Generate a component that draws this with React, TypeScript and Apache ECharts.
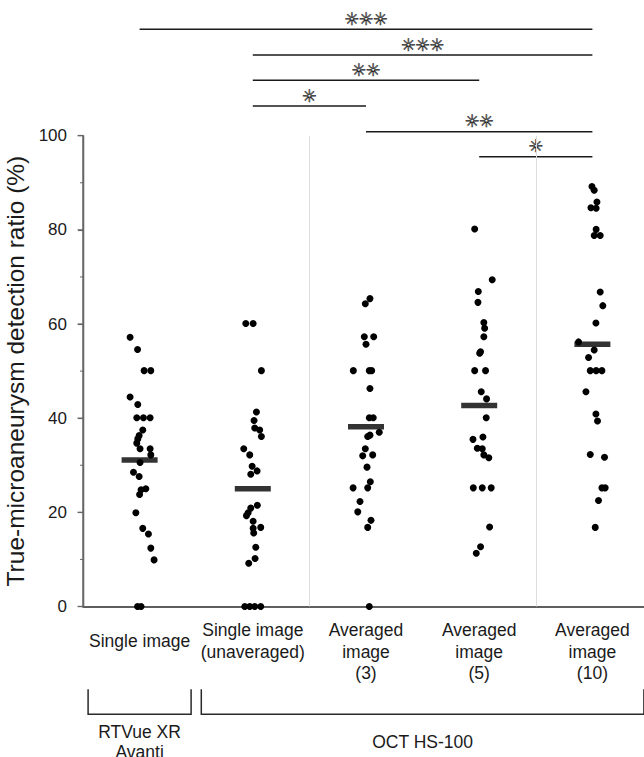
import React, { useEffect, useRef } from 'react';
import * as echarts from 'echarts';

// ---------- data ----------
const categories = [
  'Single image',
  'Single image\n(unaveraged)',
  'Averaged\nimage\n(3)',
  'Averaged\nimage\n(5)',
  'Averaged\nimage\n(10)',
];

const yMin = 0;
const yMax = 100;
const yInterval = 20;
const yMajorTicks = [0, 20, 40, 60, 80, 100];
const yMinorTicks = [10, 30, 50, 70, 90];

// values (%) and horizontal jitter (in category units)
const rtvueValues = [57.2, 54.6, 50.1, 50.1, 44.5, 42.9, 40.1, 40.1, 40.1, 37.5, 36.3, 35.6, 34.7, 33.5, 33.5, 32.2, 30.6, 28.5, 27.6, 25.0, 24.8, 23.8, 19.9, 16.6, 15.4, 12.4, 9.9, 0, 0];
const rtvueJitter = [-0.084, -0.018, 0.04, 0.099, -0.084, -0.016, -0.025, 0.034, 0.093, 0.028, -0.004, -0.016, -0.025, 0.004, 0.093, 0.099, 0.004, -0.054, -0.004, 0.055, 0.013, 0, -0.033, 0.028, 0.078, 0.099, 0.128, -0.018, 0.013];

const singleValues = [60.1, 60.1, 50.1, 41.3, 39.5, 37.9, 37.5, 36.1, 33.5, 32.2, 29.8, 28.8, 28.1, 21.5, 20.9, 19.9, 19.3, 18.1, 16.8, 16.6, 15.6, 12.6, 10.2, 9.2, 0, 0, 0, 0];
const singleJitter = [-0.062, 0.003, 0.076, 0.032, 0.011, 0.017, 0.061, 0.076, -0.08, -0.027, -0.006, 0.038, -0.018, 0.04, -0.018, -0.041, -0.056, 0.003, 0.07, 0.003, 0.008, 0.026, 0.02, -0.036, -0.071, -0.027, 0.017, 0.07];

const avg3Values = [65.4, 64.3, 57.3, 57.3, 55.7, 50.1, 50.1, 50.1, 46.3, 40.1, 40.1, 37.0, 36.4, 36.1, 33.5, 32.2, 32.0, 29.6, 26.5, 25.2, 25.2, 22.3, 20.1, 18.3, 16.8, 0];
const avg3Jitter = [0.035, -0.006, -0.015, 0.068, 0, -0.112, 0.029, 0.05, 0.035, 0.029, 0.064, 0.117, 0.035, 0.015, -0.006, 0.059, -0.029, 0.009, 0.038, 0.015, -0.114, -0.053, -0.073, 0.044, 0.015, 0.029];

const avg5Values = [80.2, 69.4, 66.9, 64.6, 60.3, 59.1, 57.3, 54.1, 53.8, 50.1, 50.1, 45.6, 44.1, 40.1, 36.0, 35.5, 33.6, 33.5, 32.2, 31.6, 25.2, 25.2, 25.2, 16.9, 12.7, 11.3];
const avg5Jitter = [-0.04, 0.115, -0.008, -0.011, 0.041, 0.048, 0.041, 0.012, 0.004, -0.04, 0.056, 0.018, 0.065, 0.062, 0.033, -0.055, -0.017, 0.027, 0.041, 0.085, -0.052, 0.027, 0.106, 0.092, 0.012, -0.026];

const avg10Values = [89.2, 88.4, 85.9, 84.7, 84.6, 80.1, 78.8, 78.8, 66.8, 63.9, 60.2, 56.2, 54.5, 52.9, 50.1, 50.1, 50.1, 45.6, 40.9, 39.4, 32.3, 31.7, 25.2, 25.2, 22.5, 16.8];
const avg10Jitter = [-0.004, 0.016, 0.04, -0.013, 0.033, 0.033, 0.016, 0.069, 0.069, 0.092, 0.031, -0.122, 0.016, -0.034, -0.019, 0.033, 0.084, -0.057, 0.031, 0.045, -0.019, 0.107, 0.084, 0.113, 0.054, 0.025];

const groupValues = [rtvueValues, singleValues, avg3Values, avg5Values, avg10Values];
const groupJitter = [rtvueJitter, singleJitter, avg3Jitter, avg5Jitter, avg10Jitter];

const means = [31.1, 25.0, 38.2, 42.7, 55.7];

// significance comparisons
const sigFrom = [0, 1, 1, 1, 2, 3];
const sigTo = [4, 4, 3, 2, 4, 4];
const sigStars = ['✳✳✳', '✳✳✳', '✳✳', '✳', '✳✳', '✳'];

// device groups under the axis
const deviceNames = ['RTVue XR\nAvanti', 'OCT HS-100'];
const deviceFrom = [0, 1];
const deviceTo = [0, 4];

// separators between panels (category index + 0.5 = boundary)
const separators = [1.5, 3.5];

// ---------- layout (pixels) ----------
const W = 644;
const H = 757;
const SIG_Y = [29.3, 55, 80.3, 106, 131.7, 156.7];
const FONT = "'Liberation Sans', Arial, Helvetica, sans-serif";
const AXIS_GRAY = '#666666';

// category index -> value-axis coordinate (band centres at 0.5, 1.5, ...)
const pos = (i: number) => i + 0.5;

export default function App() {
  const ref = useRef<HTMLDivElement>(null);

  useEffect(() => {
    if (!ref.current) return;
    const chart = echarts.init(ref.current, null, { renderer: 'svg' });

    const dotSeries = groupValues.map((vals, gi) => ({
      type: 'scatter',
      xAxisIndex: 1,
      yAxisIndex: 0,
      symbol: 'circle',
      symbolSize: 7,
      itemStyle: { color: '#000000', opacity: 1 },
      z: 3,
      silent: true,
      data: vals.map((v, i) => [pos(gi + groupJitter[gi][i]), v]),
    }));

    const option: any = {
      animation: false,
      textStyle: { fontFamily: FONT },
      grid: {
        left: 83,
        top: 135.7,
        width: 566,
        height: 470.8,
        outerBoundsMode: 'none',
      },
      xAxis: [
        {
          type: 'category',
          data: categories.map((c, i) =>
            i === 0 ? { value: c, textStyle: { lineHeight: 43.4 } } : c
          ),
          boundaryGap: true,
          axisLine: { show: true, lineStyle: { color: '#2a2a2a', width: 1.6 } },
          axisTick: { show: false },
          axisLabel: {
            interval: 0,
            margin: 12.5,
            fontSize: 17.5,
            lineHeight: 21.7,
            color: '#1a1a1a',
            fontFamily: FONT,
            verticalAlign: 'top',
          },
          splitLine: { show: false },
          splitArea: { show: false },
        },
        { type: 'value', min: 0, max: 5, show: false },
      ],
      yAxis: {
        type: 'value',
        z: 10,
        min: yMin,
        max: yMax,
        interval: yInterval,
        name: 'True-microaneurysm detection ratio (%)',
        nameLocation: 'middle',
        nameGap: 54,
        nameRotate: 90,
        nameTextStyle: { fontSize: 24.5, color: '#1a1a1a', fontFamily: FONT },
        axisLine: { show: true, lineStyle: { color: AXIS_GRAY, width: 1.3 } },
        axisTick: { show: true, length: 5, lineStyle: { color: AXIS_GRAY, width: 1.2 } },
        axisLabel: { fontSize: 17, color: '#1a1a1a', margin: 16, fontFamily: FONT },
        splitLine: { show: false },
        splitArea: { show: false },
      },
      series: [
        {
          type: 'scatter',
          xAxisIndex: 1,
          yAxisIndex: 0,
          data: [],
          z: 1,
          silent: true,
          markLine: {
            silent: true,
            symbol: ['none', 'none'],
            label: { show: false },
            lineStyle: { color: '#dcdcdc', width: 1, type: 'solid' },
            data: [
              ...separators.map((s) => ({ xAxis: pos(s) })),
              { xAxis: 0, lineStyle: { color: AXIS_GRAY, width: 1.3, type: 'solid' } },
            ],
          },
        },
        ...dotSeries,
        {
          type: 'scatter',
          xAxisIndex: 1,
          yAxisIndex: 0,
          symbol: 'rect',
          symbolSize: [36, 5.5],
          itemStyle: { color: '#000000' },
          z: 4,
          silent: true,
          data: means.map((m, i) => [pos(i), m]),
        },
      ],
    };

    chart.setOption(option);

    const px = (v: number) => chart.convertToPixel({ xAxisIndex: 1 } as any, pos(v)) as number;
    const py = (v: number) => chart.convertToPixel({ yAxisIndex: 0 } as any, v) as number;
    const half = 0.455;
    const graphics: any[] = [];

    // y axis line and ticks, placed from the axis scales
    const xAxisLeft = chart.convertToPixel({ xAxisIndex: 1 } as any, 0) as number;
    const yTop = py(yMax);
    const yBottom = py(yMin);
    graphics.push({
      type: 'rect',
      z: 1000,
      shape: { x: xAxisLeft - 0.7, y: yTop, width: 1.4, height: yBottom - yTop },
      style: { fill: AXIS_GRAY },
      silent: true,
    });
    yMajorTicks.forEach((t) => {
      graphics.push({
        type: 'rect',
        z: 1000,
        shape: { x: xAxisLeft - 5.5, y: py(t) - 0.6, width: 5.5, height: 1.2 },
        style: { fill: AXIS_GRAY },
        silent: true,
      });
    });
    yMinorTicks.forEach((t) => {
      graphics.push({
        type: 'rect',
        z: 1000,
        shape: { x: xAxisLeft - 3, y: py(t) - 0.5, width: 3, height: 1 },
        style: { fill: AXIS_GRAY },
        silent: true,
      });
    });

    sigFrom.forEach((f, i) => {
      const x1 = px(f);
      const x2 = px(sigTo[i]);
      graphics.push({
        type: 'line',
        shape: { x1, y1: SIG_Y[i], x2, y2: SIG_Y[i] },
        style: { stroke: '#1a1a1a', lineWidth: 1.4 },
        silent: true,
      });
      graphics.push({
        type: 'text',
        x: (x1 + x2) / 2,
        y: SIG_Y[i] - 10.5,
        style: {
          text: sigStars[i],
          fontSize: 17,
          fontFamily: "'DejaVu Sans', sans-serif",
          fill: 'none',
          stroke: '#1a1a1a',
          lineWidth: 0.6,
          align: 'center',
          verticalAlign: 'middle',
          textAlign: 'center',
          textVerticalAlign: 'middle',
        },
        silent: true,
      });
    });

    const bTop = 689.3;
    const bBottom = 714.3;
    deviceFrom.forEach((f, i) => {
      const xl = px(f - half);
      const xr = px(deviceTo[i] + half);
      graphics.push({
        type: 'polyline',
        shape: { points: [[xl, bTop], [xl, bBottom], [xr, bBottom], [xr, bTop]] },
        style: { stroke: '#2a2a2a', lineWidth: 1.5, fill: null },
        silent: true,
      });
      const lines = deviceNames[i].split('\n').length;
      graphics.push({
        type: 'text',
        x: (px(f) + px(deviceTo[i])) / 2,
        y: lines > 1 ? 721.5 : 741.7,
        style: {
          text: deviceNames[i],
          fontSize: 17.5,
          lineHeight: 20,
          fontFamily: FONT,
          fill: '#1a1a1a',
          align: 'center',
          verticalAlign: lines > 1 ? 'top' : 'middle',
          textAlign: 'center',
          textVerticalAlign: lines > 1 ? 'top' : 'middle',
        },
        silent: true,
      });
    });

    chart.setOption({ graphic: graphics });

    return () => {
      chart.dispose();
    };
  }, []);

  return (
    <div
      ref={ref}
      style={{ position: 'absolute', left: 0, top: 0, width: W, height: H, background: '#fff' }}
    />
  );
}
